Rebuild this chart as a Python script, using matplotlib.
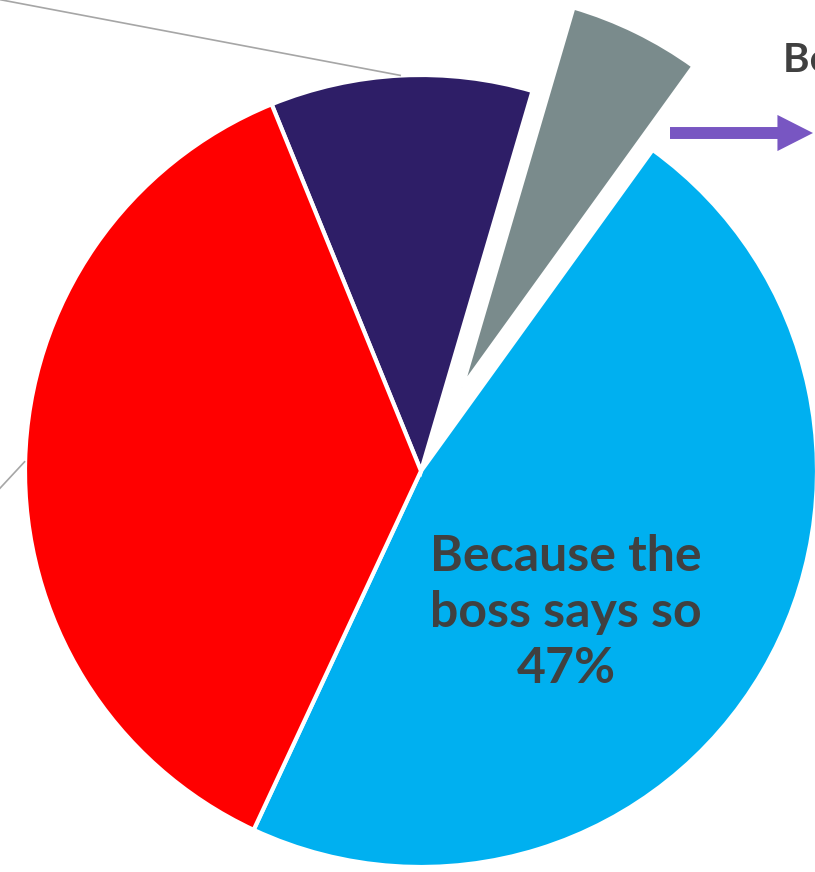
import numpy as np
import matplotlib
matplotlib.use("Agg")
from matplotlib import pyplot as plt

# slices (counter-clockwise from the start angle)
labels = ["Because the\nboss says so", "Because it is the rule", "Other reasons", "Because we always did it"]
values = [47.0, 5.4, 10.7, 36.9]
colors = ["#00B0F0", "#7A8B8C", "#2E1E67", "#FF0000"]
explode = [0, 0.235, 0, 0]

TEXT_COLOR = "#404040"
FONT = ["Lato", "DejaVu Sans"]

# figure pixels -> pie geometry
W, H = 815, 872
cx, cy, R = 421, 471, 396  # pie centre and radius in pixels (from top left)

fig = plt.figure(figsize=(W / 100, H / 100), dpi=100)
ax = fig.add_axes([0, 0, 1, 1])

wedges, _ = ax.pie(values, colors=colors, explode=explode, startangle=245,
                   counterclock=True, radius=1,
                   wedgeprops=dict(edgecolor="white", linewidth=3))

# only part of the pie is visible
ax.set_xlim(-cx / R, (W - cx) / R)
ax.set_ylim(-(H - cy) / R, cy / R)
ax.set_aspect("equal")
ax.axis("off")

# label inside the big slice
ax.text(0.366, -0.358, labels[0] + "\n" + f"{values[0]:.0f}%", ha="center", va="center",
        fontsize=36, fontweight="bold", color=TEXT_COLOR, family=FONT, linespacing=1.3)

# label of the small exploded slice (runs off the right edge)
ax.text((783 - cx) / R, (cy - 72) / R, labels[1] + " " + f"{values[1]:.0f}%", ha="left",
        va="baseline", fontsize=29, fontweight="bold", color=TEXT_COLOR, family=FONT,
        clip_on=False)

# purple arrow pointing at that label
ax.annotate("", xy=((813 - cx) / R, (cy - 133) / R), xytext=((670 - cx) / R, (cy - 133) / R),
            arrowprops=dict(width=8.6, headwidth=26, headlength=25.6, shrink=0,
                            facecolor="#7856C2", edgecolor="none"))

# leader lines towards labels outside the visible area
def leader(w, slope, x_end=-1.4):
    mid = np.deg2rad((w.theta1 + w.theta2) / 2)
    x0, y0 = np.cos(mid), np.sin(mid)
    ax.plot([x0, x_end], [y0, y0 + slope * (x_end - x0)], color="#A6A6A6", lw=1.2,
            solid_capstyle="butt")

leader(wedges[2], -76 / 401.7)
leader(wedges[3], 24 / 22.3)

fig.savefig("out.png", dpi=100)
